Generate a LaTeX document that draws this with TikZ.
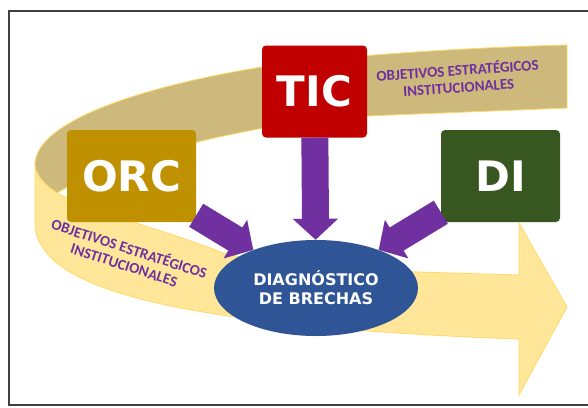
\documentclass[tikz,border=0pt]{standalone}
\usepackage{fontspec}
\setmainfont{DejaVu Sans}
\newfontfamily\bandfont{Carlito}
\usetikzlibrary{arrows.meta,shapes.geometric}
\definecolor{orcgold}{HTML}{BF9000}
\definecolor{ticred}{HTML}{C00000}
\definecolor{digreen}{HTML}{38561F}
\definecolor{diagblue}{HTML}{2F5597}
\definecolor{arrowpurple}{HTML}{7030A0}
\definecolor{bandtan}{HTML}{CCB97B}
\definecolor{bandyellow}{HTML}{FFE699}
\definecolor{bandedge}{HTML}{FFD966}
\begin{document}
\begin{tikzpicture}[x=1pt,y=-1pt,
  box/.style={rounded corners=4pt, text=white, inner sep=0pt,
    font=\fontsize{42}{42}\selectfont\bfseries},
  bigarrow/.style={arrowpurple, line width=27pt, -{Triangle[width=44pt,length=21pt]}},
  band/.style={draw=bandedge, line width=0.8pt},
  bandtext/.style={arrowpurple, align=center, inner sep=0pt,
    font=\bandfont\bfseries\fontsize{15}{17}\selectfont}]
\useasboundingbox (0,0) rectangle (588,407);
\draw[black!75, line width=1.2pt] (588,11) -- (9,11) -- (9,405) -- (588,405);
% back of the band
\draw[band, fill=bandtan] (567,45) -- (567,108) -- (367,116)
  .. controls (250,122) and (110,160) .. (57,193)
  .. controls (45,185) and (37,177) .. (35,166)
  .. controls (33,120) and (150,85) .. (262,67)
  .. controls (330,57) and (450,48) .. (567,45) -- cycle;
% front of the band, with its head
\draw[band, fill=bandyellow] (35,166) -- (35,225)
  .. controls (38,285) and (160,310) .. (300,325)
  .. controls (380,333) and (460,337) .. (519,339)
  -- (519,395) -- (567,307) -- (519,223) -- (519,275)
  -- (418,272) .. controls (330,268) and (260,262) .. (223,253)
  .. controls (160,228) and (100,215) .. (57,193)
  .. controls (45,185) and (37,177) .. (35,166) -- cycle;
\node[bandtext, rotate=4] (goalsback) at (458,78) {OBJETIVOS ESTRATÉGICOS\\INSTITUCIONALES};
\node[bandtext, rotate=-18] (goalsfront) at (127,256) {OBJETIVOS ESTRATÉGICOS\\INSTITUCIONALES};
% boxes
\foreach \n/\t/\x/\y/\w/\c in {orc/ORC/131.5/176/129/orcgold, tic/TIC/314.5/91.5/105/ticred, di/DI/500.5/176/119/digreen}
    \node[box, fill=\c, minimum width=\w pt, minimum height=92pt] (\n) at (\x,\y) {\t};
\node[ellipse, fill=diagblue, text=white, align=center, inner sep=0pt,
  minimum width=204pt, minimum height=96pt,
  font=\fontsize{16}{19}\selectfont\bfseries] (diag) at (316,288) {DIAGNÓSTICO\\DE BRECHAS};
\foreach \n in {orc, tic, di}
    \draw[bigarrow] (\n) -- (diag);
\end{tikzpicture}
\end{document}
